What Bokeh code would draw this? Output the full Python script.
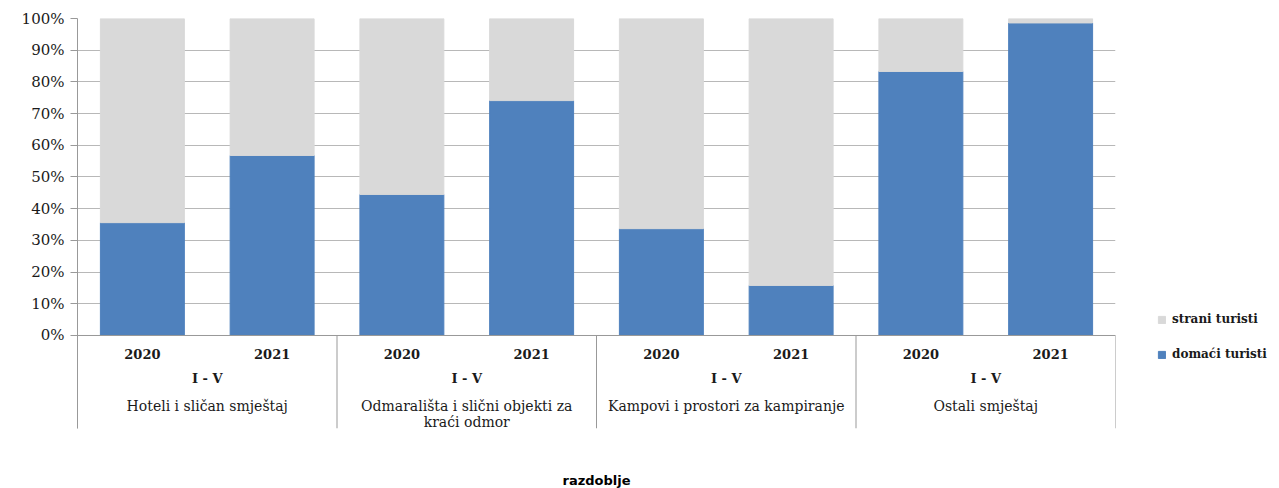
from bokeh.plotting import figure
from bokeh.models import (ColumnDataSource, Range1d, FixedTicker, PrintfTickFormatter,
                          Legend, LegendItem, LinearAxis)
from bokeh.core.properties import value
from bokeh.embed import file_html
from bokeh.resources import INLINE

# ---- data ----
categories = ["Hoteli i sličan smještaj",
              "Odmarališta i slični objekti za\nkraći odmor",
              "Kampovi i prostori za kampiranje",
              "Ostali smještaj"]
period = "I - V"
years = ["2020", "2021"]
domaci = [35.6, 56.8, 44.5, 74.1, 33.7, 15.8, 83.3, 98.6]   # domaći turisti, %
strani = [64.4, 43.2, 55.5, 25.9, 66.3, 84.2, 16.7, 1.4]    # strani turisti, %
y_ticks = [0, 10, 20, 30, 40, 50, 60, 70, 80, 90, 100]

C_DOM = "#4f81bd"
C_STR = "#d9d9d9"
C_GRID = "#b8b8b8"
C_LINE = "#999999"
SERIF = "DejaVu Serif"

n = len(domaci)
xs = [i + 0.5 for i in range(n)]
src = ColumnDataSource(dict(
    x=xs,
    d=domaci,
    top=[a + b for a, b in zip(domaci, strani)],
))

p = figure(frame_width=1038, frame_height=410,
           min_border_left=77, min_border_right=164,
           min_border_top=18, min_border_bottom=60,
           x_range=Range1d(0, n), y_range=Range1d(-29.34, 100),
           x_axis_location=None, toolbar_location=None,
           output_backend="svg", tools="")
p.outline_line_color = None
p.xgrid.visible = False

# y axis
p.yaxis.ticker = FixedTicker(ticks=y_ticks)
p.yaxis.formatter = PrintfTickFormatter(format="%d%%")
p.yaxis.major_label_text_font = SERIF
p.yaxis.major_label_text_font_size = "15px"
p.yaxis.major_label_text_color = "#1a1a1a"
p.yaxis.axis_line_color = C_LINE
p.yaxis.major_tick_line_color = C_LINE
p.yaxis.major_tick_out = 7
p.yaxis.major_tick_in = 0
p.yaxis.minor_tick_line_color = None
p.yaxis.major_label_standoff = 6
p.ygrid.ticker = FixedTicker(ticks=y_ticks)
p.ygrid.grid_line_color = C_GRID

# bottom axis used only for its title
xax = LinearAxis(ticker=FixedTicker(ticks=[]), axis_line_color=None,
                 major_tick_line_color=None, minor_tick_line_color=None,
                 axis_label="razdoblje", axis_label_standoff=44,
                 axis_label_text_font="DejaVu Sans", axis_label_text_font_size="13px",
                 axis_label_text_font_style="bold", axis_label_text_color="#000000")
p.add_layout(xax, "below")

W = 0.647
r_dom = p.vbar(x="x", bottom=0, top="d", width=W, color=C_DOM, source=src)
r_str = p.vbar(x="x", bottom="d", top="top", width=W, color=C_STR, source=src)

# category axis line and separators
p.segment(x0=[0], y0=[0], x1=[n], y1=[0], line_color=C_LINE, line_width=1)
sep_x = [2 * i for i in range(len(categories) + 1)]
p.segment(x0=sep_x, y0=[0] * len(sep_x), x1=sep_x, y1=[-29.34] * len(sep_x),
          line_color=C_LINE, line_width=1)

# year labels
year_labels = [years[i % 2] for i in range(n)]
p.text(x=xs, y=[-5.7] * n, text=year_labels, text_align="center",
       text_baseline="middle", text_font=value(SERIF), text_font_size="13px",
       text_font_style="bold", text_color="#1a1a1a")

cx = [2 * i + 1 for i in range(len(categories))]
p.text(x=cx, y=[-13.6] * len(cx), text=[period] * len(cx), text_align="center",
       text_baseline="middle", text_font=value(SERIF), text_font_size="13px",
       text_font_style="bold", text_color="#1a1a1a")
p.text(x=cx, y=[-19.6] * len(cx), text=categories, text_align="center",
       text_baseline="top", text_font=value(SERIF), text_font_size="14px",
       text_line_height=1.05, text_color="#1a1a1a")

legend = Legend(items=[LegendItem(label="strani turisti", renderers=[r_str]),
                       LegendItem(label="domaći turisti", renderers=[r_dom])],
                location=(42, 64), orientation="vertical",
                glyph_width=9, glyph_height=9, label_height=20, spacing=15,
                label_standoff=6, padding=0, margin=0,
                border_line_color=None, background_fill_alpha=0,
                label_text_font=SERIF, label_text_font_size="12px",
                label_text_font_style="bold", label_text_color="#1a1a1a")
p.add_layout(legend, "right")

open("out.html", "w").write(file_html(p, INLINE))
